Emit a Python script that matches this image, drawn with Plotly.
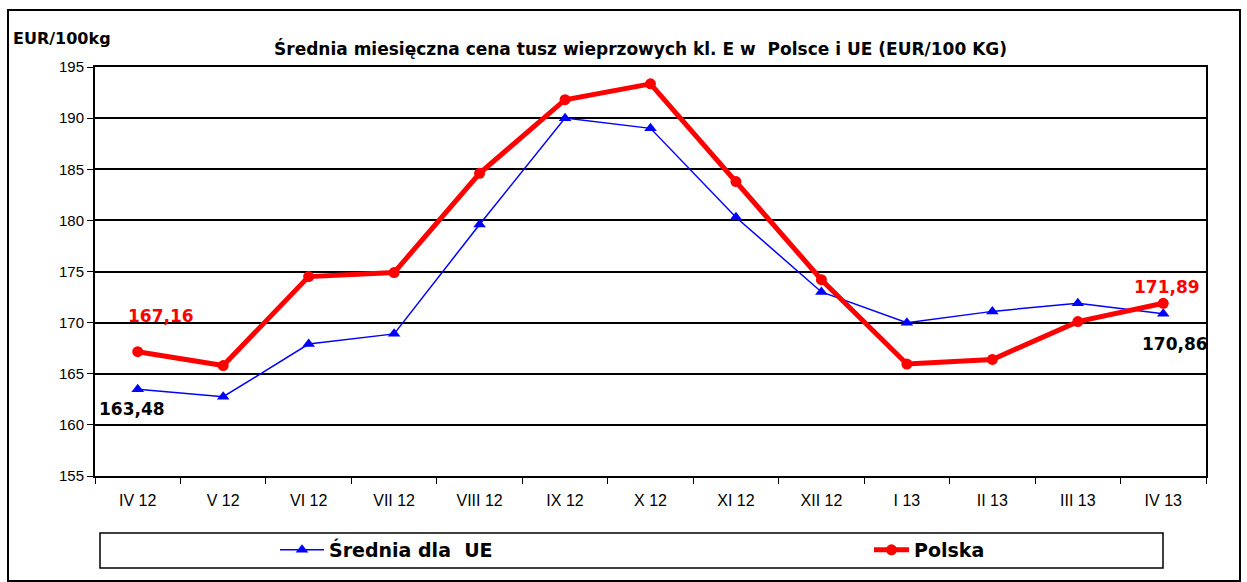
import plotly.graph_objects as go

# dane
miesiace = ["IV 12", "V 12", "VI 12", "VII 12", "VIII 12", "IX 12", "X 12",
            "XI 12", "XII 12", "I 13", "II 13", "III 13", "IV 13"]
srednia_ue = [163.48, 162.75, 167.9, 168.9, 179.6, 190.0, 189.0,
              180.3, 173.0, 170.0, 171.1, 171.9, 170.86]
polska = [167.16, 165.8, 174.5, 174.9, 184.6, 191.8, 193.35,
          183.8, 174.2, 165.95, 166.4, 170.1, 171.89]

TYTUL = "Średnia miesięczna cena tusz wieprzowych kl. E w\u00a0\u00a0Polsce i UE (EUR/100 KG)"
FONT = "Liberation Sans, Arial, sans-serif"
FONT_B = "DejaVu Sans, Arial, sans-serif"

# geometria w pikselach
W, H = 1247, 582
L, R, T, B = 95, 41, 67, 106
PW, PH = W - L - R, H - T - B


def px_x(x):
    return (x - L) / PW


def px_y(y):
    return (H - B - y) / PH


fig = go.Figure()

fig.add_trace(go.Scatter(
    x=miesiace, y=srednia_ue, name="<b>Średnia dla\u00a0\u00a0UE</b>",
    mode="lines+markers",
    line=dict(color="#0000ff", width=1.5),
    marker=dict(symbol="triangle-up", size=11, color="#0000ff"),
    legend="legend",
))
fig.add_trace(go.Scatter(
    x=miesiace, y=polska, name="<b>Polska</b>", mode="lines+markers",
    line=dict(color="#ff0000", width=5),
    marker=dict(symbol="circle", size=11, color="#ff0000"),
    legend="legend2",
))

# etykiety wartości
etykiety = [
    (miesiace[0], polska[0], "167,16", "#ff0000", 23, 36),
    (miesiace[0], srednia_ue[0], "163,48", "#000000", -6, -20),
    (miesiace[-1], polska[-1], "171,89", "#ff0000", 4, 16),
    (miesiace[-1], srednia_ue[-1], "170,86", "#000000", 12, -30),
]
for x, y, txt, kolor, dx, dy in etykiety:
    fig.add_annotation(x=x, y=y, text=f"<b>{txt}</b>", showarrow=False,
                       xshift=dx, yshift=dy,
                       font=dict(family=FONT_B, size=17, color=kolor))

fig.add_annotation(xref="paper", yref="paper", x=px_x(640), y=px_y(48),
                   xanchor="center", yanchor="middle",
                   text=f"<b>{TYTUL}</b>", showarrow=False,
                   font=dict(family=FONT_B, size=17, color="black"))
fig.add_annotation(xref="paper", yref="paper", x=px_x(11), y=px_y(38),
                   xanchor="left", yanchor="middle",
                   text="<b>EUR/100kg</b>", showarrow=False,
                   font=dict(family=FONT_B, size=16, color="black"))

# ramka zewnętrzna i ramka legendy
fig.add_shape(type="rect", xref="paper", yref="paper",
              x0=px_x(8), x1=px_x(1240), y0=px_y(581), y1=px_y(10),
              line=dict(color="black", width=2), layer="below")
fig.add_shape(type="rect", xref="paper", yref="paper",
              x0=px_x(100), x1=px_x(1163), y0=px_y(568), y1=px_y(533),
              line=dict(color="black", width=1.5))

legenda = dict(orientation="h", xanchor="left", yanchor="middle",
               y=px_y(550), bgcolor="rgba(0,0,0,0)",
               font=dict(family=FONT_B, size=19, color="black"))

fig.update_layout(
    width=W, height=H,
    margin=dict(l=L, r=R, t=T, b=B),
    paper_bgcolor="white", plot_bgcolor="white",
    font=dict(family=FONT, size=15, color="black"),
    showlegend=True,
    legend=dict(legenda, x=px_x(275), itemwidth=44),
    legend2=dict(legenda, x=px_x(869), itemwidth=35),
)
fig.update_xaxes(
    type="category", tickmode="array", tickvals=miesiace,
    range=[-0.5, len(miesiace) - 0.5],
    showline=True, linecolor="black", linewidth=2, mirror=True,
    ticks="outside", tickson="boundaries", ticklen=6, tickcolor="black",
    showgrid=False, tickfont=dict(size=16), ticklabelstandoff=9,
)
fig.update_yaxes(
    range=[155, 195], dtick=5,
    showline=True, linecolor="black", linewidth=2, mirror=True,
    ticks="outside", ticklen=6, tickcolor="black",
    showgrid=True, gridcolor="black", gridwidth=1.5,
    zeroline=False, tickfont=dict(size=15),
)

fig.write_html("out.html", config={"displayModeBar": False},
               post_script="document.body.style.margin='0';")
